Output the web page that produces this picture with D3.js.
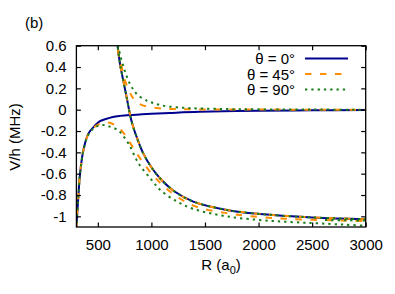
<!DOCTYPE html>
<html>
<head>
<meta charset="utf-8">
<script src="https://cdn.jsdelivr.net/npm/d3@7"></script>
<style>
  body { margin: 0; background: #fff; }
  svg { display: block; font-family: "Liberation Sans", Arial, sans-serif; }
</style>
</head>
<body>
<div id="chart"></div>
<script>
// Values, [R (a0), V/h (MHz)]
// theta = 0: two branches that cross
const theta0Rising = [
  [300, -1.12], [306, -1.0], [318, -0.82], [334, -0.6], [365, -0.38], [411, -0.225],
  [474, -0.148], [520, -0.108], [567, -0.09], [640, -0.068], [707, -0.058], [800, -0.05],
  [893, -0.045], [1000, -0.039], [1173, -0.031], [1450, -0.02], [2000, -0.01],
  [2500, -0.006], [3000, -0.004]
];
// the steep branch is shared by all three angles
const theta0Falling = [
  [670, 0.7], [684, 0.6], [707, 0.43], [738, 0.27], [769, 0.116], [800, -0.045],
  [822, -0.134], [853, -0.23], [924, -0.41], [1000, -0.54], [1080, -0.643], [1220, -0.77],
  [1391, -0.862], [1703, -0.94], [2013, -0.978], [2500, -1.01], [3000, -1.027]
];
// theta = 45: avoided crossing
const theta45Lower = [
  [300, -1.12], [306, -1.0], [318, -0.82], [334, -0.6], [365, -0.38], [411, -0.23],
  [474, -0.158], [530, -0.13], [585, -0.12], [641, -0.134], [700, -0.175], [754, -0.237],
  [863, -0.41], [1003, -0.6], [1158, -0.755], [1391, -0.9], [1703, -0.97], [1920, -0.998],
  [2200, -1.02], [2500, -1.032], [2822, -1.04], [3000, -1.045]
];
const theta45Upper = [
  [670, 0.7], [684, 0.6], [705, 0.47], [723, 0.4], [745, 0.3], [770, 0.23], [800, 0.16],
  [831, 0.105], [880, 0.06], [956, 0.03], [1050, 0.015], [1150, 0.008], [1400, 0.003],
  [2000, 0.001], [3000, 0.0]
];
// theta = 90: avoided crossing, wider gap
const theta90Lower = [
  [300, -1.12], [306, -1.0], [318, -0.82], [334, -0.6], [365, -0.385], [411, -0.235],
  [474, -0.165], [536, -0.143], [600, -0.155], [691, -0.195], [784, -0.315], [878, -0.5],
  [1003, -0.66], [1080, -0.75], [1220, -0.85], [1391, -0.93], [1703, -1.0], [2107, -1.042],
  [2500, -1.063], [2800, -1.078], [3000, -1.088]
];
const theta90Upper = [
  [670, 0.72], [684, 0.62], [707, 0.52], [753, 0.36], [800, 0.24], [831, 0.19], [870, 0.14],
  [956, 0.085], [1003, 0.068], [1064, 0.048], [1158, 0.03], [1300, 0.018], [1420, 0.012],
  [1700, 0.006], [2000, 0.003], [2500, 0.001], [3000, 0.0]
];
const theta90Tail = [[2620, -1.035], [2800, -1.037], [3000, -1.04]];

const xTicks = [500, 1000, 1500, 2000, 2500, 3000];
const yTicks = [-1, -0.8, -0.6, -0.4, -0.2, 0, 0.2, 0.4, 0.6];
const legendLabels = ["θ = 0°", "θ = 45°", "θ = 90°"];

// Line styles for each angle (solid, dashed, dotted)
const styles = [
  {colour: "#00008f", dash: null},
  {colour: "#ff8f00", dash: "6.5,8.5"},
  {colour: "#1a7d1a", dash: "2.3,4"}
];
// Drawn in gnuplot order: blue, then orange, then green on top
const seriesList = [
  {style: 0, data: theta0Rising}, {style: 0, data: theta0Falling},
  {style: 1, data: theta45Lower}, {style: 1, data: theta45Upper}, {style: 1, data: theta0Falling},
  {style: 2, data: theta90Lower}, {style: 2, data: theta90Upper}, {style: 2, data: theta0Falling},
  {style: 2, data: theta90Tail}
];

const width = 395, height = 294;
const plot = {left: 76.4, right: 365.7, top: 45.7, bottom: 227};
const tick = 4.5;

const svg = d3.select("#chart").append("svg")
    .attr("width", width)
    .attr("height", height);

const x = d3.scaleLinear().domain([300, 3000]).range([plot.left, plot.right]);
const y = d3.scaleLinear().domain([-1.1, 0.6]).range([plot.bottom, plot.top]);

// Clip the curves to the frame
svg.append("defs").append("clipPath")
    .attr("id", "plot-clip")
  .append("rect")
    .attr("x", plot.left)
    .attr("y", plot.top)
    .attr("width", plot.right - plot.left)
    .attr("height", plot.bottom - plot.top);

const line = d3.line()
    .x(d => x(d[0]))
    .y(d => y(d[1]))
    .curve(d3.curveCatmullRom.alpha(0.5));

svg.append("g")
    .attr("clip-path", "url(#plot-clip)")
  .selectAll("path")
  .data(seriesList)
  .join("path")
    .attr("d", d => line(d.data))
    .attr("fill", "none")
    .attr("stroke", d => styles[d.style].colour)
    .attr("stroke-width", 2)
    .attr("stroke-dasharray", d => styles[d.style].dash);

// Axes: inward ticks on all four sides, labels only bottom and left
const fontSize = "15px";

svg.append("g")
    .attr("transform", `translate(0,${plot.bottom})`)
    .call(d3.axisBottom(x).tickValues(xTicks).tickSize(-tick).tickPadding(12).tickFormat(d => String(d)));
svg.append("g")
    .attr("transform", `translate(0,${plot.top})`)
    .call(d3.axisTop(x).tickValues(xTicks).tickSize(-tick).tickFormat(""));
svg.append("g")
    .attr("transform", `translate(${plot.left},0)`)
    .call(d3.axisLeft(y).tickValues(yTicks).tickSize(-tick).tickPadding(9.7).tickFormat(d => String(d)));
svg.append("g")
    .attr("transform", `translate(${plot.right},0)`)
    .call(d3.axisRight(y).tickValues(yTicks).tickSize(-tick).tickFormat(""));

svg.selectAll(".domain").remove();
svg.selectAll(".tick line").attr("stroke", "#000").attr("stroke-width", 1.2);
svg.selectAll(".tick text")
    .attr("fill", "#000")
    .style("font-family", "'Liberation Sans', Arial, sans-serif")
    .style("font-size", fontSize);

// Frame
svg.append("rect")
    .attr("x", plot.left)
    .attr("y", plot.top)
    .attr("width", plot.right - plot.left)
    .attr("height", plot.bottom - plot.top)
    .attr("fill", "none")
    .attr("stroke", "#000")
    .attr("stroke-width", 1.3);

// Axis titles
const xTitle = svg.append("text")
    .attr("x", (plot.left + plot.right) / 2)
    .attr("y", 269.5)
    .attr("text-anchor", "middle")
    .style("font-size", fontSize)
    .text("R (a");
xTitle.append("tspan").attr("dy", 4).style("font-size", "11px").text("0");
xTitle.append("tspan").attr("dy", -4).text(")");

svg.append("text")
    .attr("transform", `translate(20,137) rotate(-90)`)
    .attr("text-anchor", "middle")
    .style("font-size", fontSize)
    .text("V/h (MHz)");

svg.append("text")
    .attr("x", 25)
    .attr("y", 28)
    .style("font-size", fontSize)
    .text("(b)");

// Legend, top right inside the frame
const legTop = 58.4, legDy = 15.6;
const legEl = svg.append("g")
  .selectAll("g")
  .data(legendLabels)
  .join("g");

legEl.append("text")
    .attr("x", 295)
    .attr("y", (_, i) => legTop + i * legDy + 5.5)
    .attr("text-anchor", "end")
    .style("font-size", fontSize)
    .text(d => d);

legEl.append("line")
    .attr("x1", 305)
    .attr("x2", 348)
    .attr("y1", (_, i) => legTop + i * legDy)
    .attr("y2", (_, i) => legTop + i * legDy)
    .attr("stroke", (_, i) => styles[i].colour)
    .attr("stroke-width", 2)
    .attr("stroke-dasharray", (_, i) => styles[i].dash);
</script>
</body>
</html>
